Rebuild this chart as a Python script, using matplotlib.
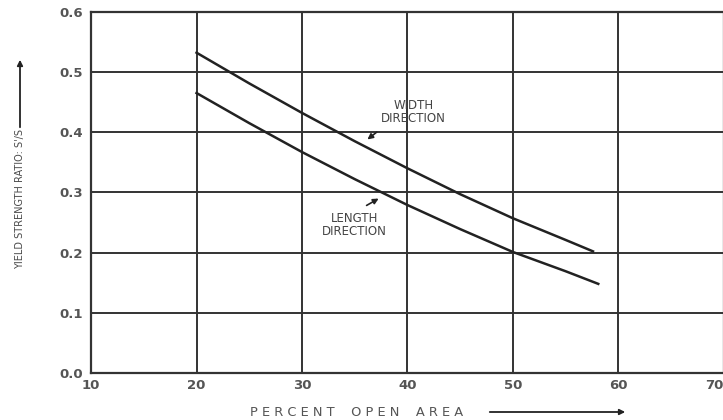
import matplotlib
matplotlib.use('Agg')
import matplotlib.pyplot as plt
from matplotlib.patches import FancyArrowPatch

# percent open area vs. yield strength ratio S'/S
width_area = [20, 25, 30, 35, 40, 45, 50, 55, 57.6]
width_dir = [0.532, 0.481, 0.432, 0.385, 0.340, 0.297, 0.257, 0.221, 0.202]
length_area = [20, 25, 30, 35, 40, 45, 50, 55, 58.1]
length_dir = [0.465, 0.415, 0.367, 0.322, 0.279, 0.239, 0.201, 0.169, 0.148]

x_ticks = [10, 20, 30, 40, 50, 60, 70]
y_ticks = [0.0, 0.1, 0.2, 0.3, 0.4, 0.5, 0.6]

INK = '#222222'
TXT = '#555555'

fig = plt.figure(figsize=(7.23, 4.20), dpi=100)
fig.patch.set_facecolor('white')
ax = fig.add_axes([0.126, 0.112, 0.875, 0.860])

ax.plot(width_area, width_dir, color=INK, lw=1.8)
ax.plot(length_area, length_dir, color=INK, lw=1.8)

ax.set_xlim(10, 70)
ax.set_ylim(0, 0.6)
ax.set_xticks(x_ticks)
ax.set_yticks(y_ticks)
ax.set_xticklabels([str(v) for v in x_ticks])
ax.set_yticklabels([f'{v:.1f}' for v in y_ticks])
ax.grid(True, color='#333333', lw=1.4)
ax.set_axisbelow(True)
for s in ax.spines.values():
    s.set_color('#333333')
    s.set_linewidth(1.6)
ax.tick_params(length=0, pad=6, colors=TXT, labelsize=9.5)
ax.tick_params(axis='x', pad=4)
for lbl in ax.get_xticklabels() + ax.get_yticklabels():
    lbl.set_fontweight('bold')
    lbl.set_color(TXT)
# last x label sits at the figure edge; pull it in so it stays whole
ax.get_xticklabels()[-1].set_horizontalalignment('right')

# curve labels with small pointer arrows
ax.text(40.6, 0.434, 'WIDTH\nDIRECTION', ha='center', va='center',
        fontsize=8.5, color='#444444', linespacing=1.0)
ax.annotate('', xy=(36.0, 0.385), xytext=(37.3, 0.403),
            arrowprops=dict(arrowstyle='-|>', color=INK, lw=1.2, mutation_scale=8))
ax.text(35.0, 0.246, 'LENGTH\nDIRECTION', ha='center', va='center',
        fontsize=8.5, color='#444444', linespacing=1.0)
ax.annotate('', xy=(37.5, 0.292), xytext=(35.9, 0.276),
            arrowprops=dict(arrowstyle='-|>', color=INK, lw=1.2, mutation_scale=8))

# axis titles with trailing arrows
fig.text(250 / 723, 1 - 412 / 420, 'P E R C E N T    O P E N    A R E A',
         ha='left', va='center', fontsize=9.4, color=TXT)
fig.add_artist(FancyArrowPatch(
    (487 / 723, 1 - 412 / 420), (628 / 723, 1 - 412 / 420),
    transform=fig.transFigure, arrowstyle='-|>', mutation_scale=8,
    color=INK, lw=1.3))

fig.text(20 / 723, 1 - 199 / 420, "YIELD STRENGTH RATIO: S'/S", rotation=90,
         ha='center', va='center', fontsize=7, color='#4a4a4a')
fig.add_artist(FancyArrowPatch(
    (20 / 723, 1 - 130 / 420), (20 / 723, 1 - 57 / 420),
    transform=fig.transFigure, arrowstyle='-|>', mutation_scale=8,
    color=INK, lw=1.3))

fig.savefig('out.png', dpi=100, facecolor='white')
